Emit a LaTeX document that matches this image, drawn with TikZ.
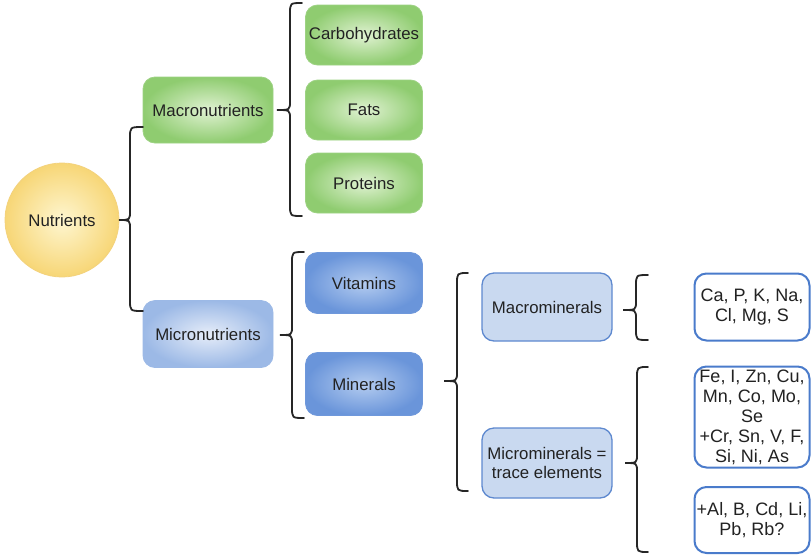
\documentclass[tikz,border=0pt]{standalone}
\usepackage{fontspec}
\setmainfont{Liberation Sans}
\usetikzlibrary{calc}
\definecolor{txt}{HTML}{222222}
\definecolor{gin}{HTML}{E0F2D2}
\definecolor{gout}{HTML}{8FCC70}
\definecolor{gbor}{HTML}{9DD283}
\definecolor{bin}{HTML}{B4CCF0}
\definecolor{bout}{HTML}{6A95DA}
\definecolor{bbor}{HTML}{6F98DB}
\definecolor{lbin}{HTML}{E6EDF9}
\definecolor{lbout}{HTML}{9CB9E6}
\definecolor{flat}{HTML}{C9D9F0}
\definecolor{flatbor}{HTML}{5E89CF}
\definecolor{elbor}{HTML}{4A7BCB}
\definecolor{yin}{HTML}{FEF6D0}
\definecolor{yout}{HTML}{F7D676}
\definecolor{ybor}{HTML}{F3D27E}
\tikzset{
  base/.style={rounded corners=12pt, inner sep=0pt, align=center, text=txt,
    font=\fontsize{16.8}{19}\selectfont},
  greenbox/.style={base, shade, inner color=gin, outer color=gout, draw=gbor, line width=0.8pt,
    minimum width=117pt, minimum height=60pt},
  bluebox/.style={base, shade, inner color=bin, outer color=bout, draw=bbor, line width=0.8pt,
    minimum width=117pt, minimum height=61pt},
  lightbox/.style={base, shade, inner color=lbin, outer color=lbout, draw=lbout, line width=0.8pt},
  flatbox/.style={base, fill=flat, draw=flatbor, line width=1.3pt, minimum width=130pt},
  elbox/.style={base, fill=white, draw=elbor, line width=2pt, minimum width=115pt,
    font=\fontsize{18}{20}\selectfont},
  bracestyle/.style={draw=black!85, line width=1.8pt, line cap=round},
}
\newcommand{\nbrace}[6]{%
  \draw[bracestyle] (#6,#4) .. controls (#3,#4) .. (#3,#4+11)
    -- (#3,#2-9) .. controls (#3,#2) .. (#1,#2)
    .. controls (#3,#2) .. (#3,#2+9)
    -- (#3,#5-11) .. controls (#3,#5) .. (#6,#5);}
\begin{document}
\begin{tikzpicture}[x=1pt,y=-1pt]
\useasboundingbox (0,0) rectangle (811,555);
% nodes
\node[circle, inner sep=0pt, minimum size=114pt, shade, inner color=yin, outer color=yout,
  draw=ybor, line width=0.8pt, text=txt, font=\fontsize{16.8}{19}\selectfont] (nut) at (62,220) {Nutrients};
\node[greenbox, minimum width=130pt, minimum height=66pt] (macro) at (208,110) {Macronutrients};
\node[greenbox] (carb) at (364,35) {Carbohydrates};
\node[greenbox] (fats) at (364,110) {Fats};
\node[greenbox] (prot) at (364,183) {Proteins};
\node[lightbox, minimum width=130pt, minimum height=67pt] (micro) at (208,334) {Micronutrients};
\node[bluebox] (vit) at (364,283) {Vitamins};
\node[bluebox, minimum height=63pt] (minr) at (364,384) {Minerals};
\node[flatbox, minimum height=68pt] (macm) at (547,307) {Macrominerals};
\node[flatbox, minimum height=70pt] (micm) at (547,463) {Microminerals =\\trace elements};
\node[elbox, minimum height=67pt] (ca) at (752,307) {Ca, P, K, Na,\\Cl, Mg, S};
\node[elbox, minimum height=101pt] (fe) at (752,417) {Fe, I, Zn, Cu,\\Mn, Co, Mo,\\Se\\+Cr, Sn, V, F,\\Si, Ni, As};
\node[elbox, minimum height=66pt] (al) at (752,520) {+Al, B, Cd, Li,\\Pb, Rb?};
% braces
\nbrace{119}{220}{130}{127}{311}{143}
\nbrace{277}{110}{290}{3}{216}{302}
\nbrace{280}{335}{292}{252}{418}{304}
\nbrace{444}{381}{457}{273}{491}{468}
\nbrace{623}{310}{636}{275}{340}{648}
\nbrace{625}{463}{637}{367}{552}{648}
\end{tikzpicture}
\end{document}
